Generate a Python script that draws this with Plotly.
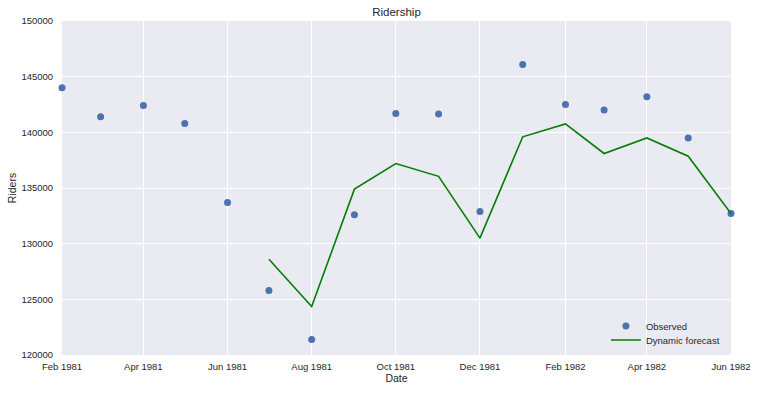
import plotly.graph_objects as go
import pandas as pd

obs_dates = pd.date_range("1981-02-01", "1982-06-01", freq="MS")
observed = [144000, 141400, 142400, 140800, 133700, 125800, 121400, 132600,
            141700, 141650, 132900, 146100, 142500, 142000, 143200, 139500, 132700]

fc_dates = pd.date_range("1981-07-01", "1982-06-01", freq="MS")
forecast = [128600, 124350, 134900, 137200, 136050, 130500, 139600, 140750,
            138100, 139500, 137850, 132700]

FONT = "Liberation Sans, Arial, Helvetica, sans-serif"

fig = go.Figure()
fig.add_trace(go.Scatter(x=obs_dates, y=observed, mode="markers", name="Observed",
                         marker=dict(color="#4C72B0", size=7), cliponaxis=False,
                         legend="legend"))
fig.add_trace(go.Scatter(x=fc_dates, y=forecast, mode="lines", name="Dynamic forecast",
                         line=dict(color="#008000", width=1.6), cliponaxis=False,
                         legend="legend2"))

leg_common = dict(xanchor="left", yanchor="middle", bgcolor="rgba(0,0,0,0)",
                  font=dict(size=9.5, color="#262626"), itemwidth=30)

fig.update_layout(
    width=758, height=393,
    margin=dict(l=62, r=27, t=21, b=38, autoexpand=False),
    paper_bgcolor="white", plot_bgcolor="#EAEAF2",
    font=dict(family=FONT, size=9.5, color="#262626"),
    title=dict(text="Ridership", x=0.5, xref="paper", y=0.970, yref="container",
               yanchor="middle", font=dict(size=11.5, color="#262626")),
    showlegend=True,
    legend=dict(x=0.813, y=0.087, **leg_common),
    legend2=dict(x=0.813, y=0.045, **leg_common),
)
fig.update_xaxes(range=[obs_dates[0], obs_dates[-1]], tickformat="%b %Y",
                 dtick="M2", tick0="1981-02-01", showgrid=True, gridcolor="white",
                 gridwidth=1, zeroline=False, showline=False,
                 ticks="outside", ticklen=3, tickcolor="rgba(0,0,0,0)",
                 automargin=False,
                 title=dict(text="Date", standoff=2, font=dict(size=10.5)),
                 tickfont=dict(size=9.5, color="#262626"))
fig.update_yaxes(range=[120000, 150000], dtick=5000, tickformat="d",
                 showgrid=True, gridcolor="white", gridwidth=1, zeroline=False,
                 showline=False, ticks="outside", ticklen=6,
                 tickcolor="rgba(0,0,0,0)", automargin=False,
                 title=dict(text="Riders", standoff=2, font=dict(size=10.5)),
                 tickfont=dict(size=9.5, color="#262626"))

fig.write_html("out.html", config={"displayModeBar": False},
               post_script="document.body.style.margin='0';")
